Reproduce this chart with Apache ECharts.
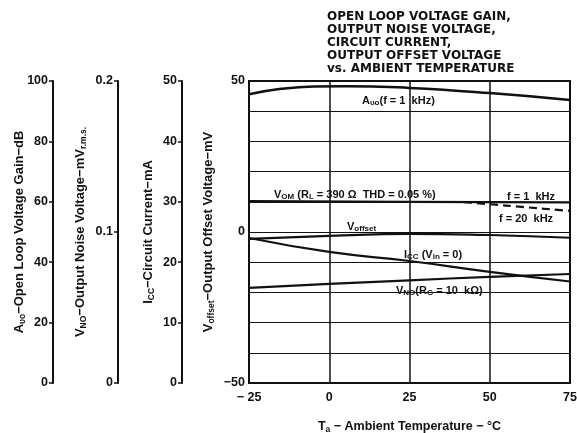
<!DOCTYPE html>
<html>
<head>
<meta charset="utf-8">
<script src="https://cdn.jsdelivr.net/npm/echarts@6/dist/echarts.min.js"></script>
<style>
  html, body { margin: 0; padding: 0; background: #fff; }
  #chart { width: 577px; height: 433px; }
</style>
</head>
<body>
<div id="chart"></div>
<script>
// values (T in degC)
var avoTemp = [-25, -15, -5, 5, 25, 50, 75];
var avoGain = [95.6, 97.4, 98.2, 98.3, 97.7, 96.0, 93.7];          // dB

var vomTemp = [-25, 25, 75];
var vom1k = [10.2, 10.0, 9.8];                                    // on mV grid
var vom20kTemp = [42, 50, 60, 75];
var vom20k = [9.9, 9.2, 8.3, 7.0];

var offTemp = [-25, 0, 25, 50, 75];
var offVolt = [-2.3, -1.3, -0.6, -1.0, -1.9];                      // mV

var iccTemp = [-25, 0, 25, 50, 75];
var iccCurr = [24.0, 21.7, 20.2, 18.4, 16.8];                      // mA

var vnoTemp = [-25, 0, 25, 50, 75];
var vnoVolt = [0.063, 0.0656, 0.068, 0.0703, 0.0722];             // mVrms

var xTicks = [-25, 0, 25, 50, 75];

function pairs(xs, ys) {
  return xs.map(function (x, i) { return [x, ys[i]]; });
}

var FONT = '"Liberation Sans", Arial, sans-serif';
var WIDE = '"DejaVu Sans", Verdana, sans-serif';
var sub = { fontSize: 8.5, fontWeight: 'bold', fontFamily: FONT, color: '#111', padding: [6, 0, 0, 0] };
var main = { fontSize: 13, fontWeight: 'bold', fontFamily: FONT, color: '#111' };
var lblM = { fontSize: 11, fontWeight: 'bold', fontFamily: FONT, fill: '#111' };
var lblS = { fontSize: 8, fontWeight: 'bold', fontFamily: FONT, fill: '#111', padding: [5, 0, 0, 0] };

function sideAxis(offset, min, max, interval, name, gap) {
  return {
    type: 'value', position: 'left', offset: offset,
    min: min, max: max, interval: interval,
    name: name, nameLocation: 'middle', nameGap: gap, nameRotate: 90, nameMoveOverlap: false,
    nameTextStyle: { rich: { m: main, s: sub } },
    axisLine: { show: true, lineStyle: { color: '#111', width: 2 } },
    axisTick: { show: true, length: 4, lineStyle: { color: '#111', width: 1.5 } },
    axisLabel: { margin: 5, fontSize: 12.5, fontWeight: 'bold', fontFamily: FONT, color: '#111' },
    splitLine: { show: false }
  };
}

var chart = echarts.init(document.getElementById('chart'));

chart.setOption({
  backgroundColor: '#fff',
  animation: false,
  title: {
    text: 'OPEN LOOP VOLTAGE GAIN,\nOUTPUT NOISE VOLTAGE,\nCIRCUIT CURRENT,\nOUTPUT OFFSET VOLTAGE\nvs. AMBIENT TEMPERATURE',
    left: 322, top: 5,
    textStyle: { fontSize: 12, fontWeight: 'bold', fontFamily: WIDE, color: '#111', lineHeight: 13 }
  },
  grid: { left: 249, right: 7, top: 81, bottom: 50, show: true, borderColor: '#111', borderWidth: 2,
    outerBoundsMode: 'none', containLabel: false },
  xAxis: {
    type: 'value', min: -25, max: 75, interval: 25,
    name: '{m|T}{s|a}{m| − Ambient Temperature − °C}',
    nameLocation: 'middle', nameGap: 36, nameMoveOverlap: false,
    nameTextStyle: { rich: { m: { fontSize: 12.5, fontWeight: 'bold', fontFamily: FONT, color: '#111' }, s: sub } },
    axisLine: { show: false },
    axisTick: { show: false },
    axisLabel: {
      margin: 8, fontSize: 12.5, fontWeight: 'bold', fontFamily: FONT, color: '#111',
      formatter: function (v) { return xTicks.indexOf(v) < 0 ? '' : String(v).replace('-', '− '); }
    },
    splitLine: { show: true, lineStyle: { color: '#111', width: 1.5 } }
  },
  yAxis: [
    {
      type: 'value', position: 'left', min: -50, max: 50, interval: 10,
      name: '{m|V}{s|offset}{m|−Output Offset Voltage−mV}',
      nameLocation: 'middle', nameGap: 33, nameRotate: 90, nameMoveOverlap: false,
      nameTextStyle: { rich: { m: main, s: sub } },
      axisLine: { show: false },
      axisTick: { show: false },
      axisLabel: {
        margin: 4, fontSize: 12.5, fontWeight: 'bold', fontFamily: FONT, color: '#111',
        formatter: function (v) { return v === 50 ? '50' : v === 0 ? '0' : v === -50 ? '−50' : ''; }
      },
      splitLine: { show: true, lineStyle: { color: '#111', width: 1.2 } }
    },
    sideAxis(196, 0, 100, 20, '{m|A}{s|υo}{m|−Open Loop Voltage Gain−dB}', 26),
    sideAxis(131, 0, 0.2, 0.1, '{m|V}{s|NO}{m|−Output Noise Voltage−mV}{s|r.m.s.}', 30),
    sideAxis(67, 0, 50, 10, '{m|I}{s|CC}{m|−Circuit Current−mA}', 26)
  ],
  series: [
    { type: 'line', yAxisIndex: 1, data: pairs(avoTemp, avoGain), smooth: true, symbol: 'none',
      lineStyle: { color: '#111', width: 2.5 } },
    { type: 'line', yAxisIndex: 0, data: pairs(vomTemp, vom1k), smooth: true, symbol: 'none',
      lineStyle: { color: '#111', width: 2.2 } },
    { type: 'line', yAxisIndex: 0, data: pairs(vom20kTemp, vom20k), smooth: true, symbol: 'none',
      lineStyle: { color: '#111', width: 2.2, type: [8, 5] } },
    { type: 'line', yAxisIndex: 0, data: pairs(offTemp, offVolt), smooth: true, symbol: 'none',
      lineStyle: { color: '#111', width: 2.2 } },
    { type: 'line', yAxisIndex: 3, data: pairs(iccTemp, iccCurr), smooth: true, symbol: 'none',
      lineStyle: { color: '#111', width: 2.2 } },
    { type: 'line', yAxisIndex: 2, data: pairs(vnoTemp, vnoVolt), smooth: true, symbol: 'none',
      lineStyle: { color: '#111', width: 2.2 } }
  ],
  graphic: [
    { type: 'text', left: 362, top: 95, style: { rich: { m: lblM, s: lblS }, text: '{m|A}{s|υo}{m|(f = 1  kHz)}' } },
    { type: 'text', left: 272, top: 187, style: { backgroundColor: '#fff', padding: [1, 2], rich: { m: lblM, s: lblS }, text: '{m|V}{s|OM}{m| (R}{s|L}{m| = 390 Ω  THD = 0.05 %)}' } },
    { type: 'text', left: 507, top: 191, style: { text: 'f = 1  kHz', font: 'bold 11px ' + FONT, fill: '#111' } },
    { type: 'text', left: 499, top: 213, style: { text: 'f = 20  kHz', font: 'bold 11px ' + FONT, fill: '#111' } },
    { type: 'text', left: 345, top: 220, style: { backgroundColor: '#fff', padding: [0, 2], rich: { m: lblM, s: lblS }, text: '{m|V}{s|offset}' } },
    { type: 'text', left: 402, top: 248, style: { backgroundColor: '#fff', padding: [0, 2], rich: { m: lblM, s: lblS }, text: '{m|I}{s|CC}{m| (V}{s|in}{m| = 0)}' } },
    { type: 'text', left: 394, top: 284, style: { backgroundColor: '#fff', padding: [0, 2], rich: { m: lblM, s: lblS }, text: '{m|V}{s|NO}{m|(R}{s|G}{m| = 10  kΩ)}' } }
  ]
});
</script>
</body>
</html>
